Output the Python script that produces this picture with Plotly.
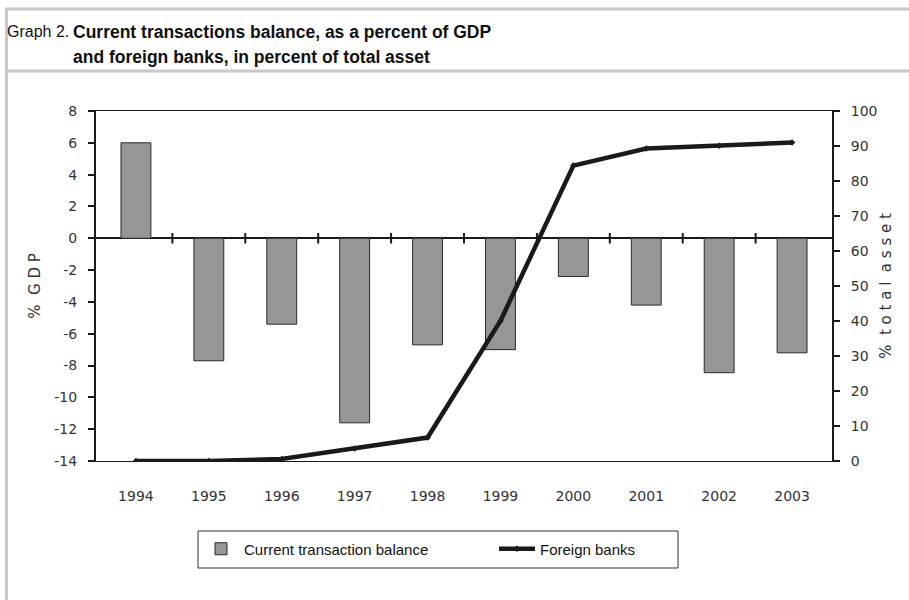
import plotly.graph_objects as go

years = ["1994", "1995", "1996", "1997", "1998", "1999", "2000", "2001", "2002", "2003"]
current_balance = [6.0, -7.7, -5.4, -11.6, -6.7, -7.0, -2.4, -4.2, -8.45, -7.2]
foreign_banks = [0.0, 0.0, 0.6, 3.6, 6.7, 40.0, 84.4, 89.3, 90.1, 91.0]

left_tick_values = [8, 6, 4, 2, 0, -2, -4, -6, -8, -10, -12, -14]
left_tick_labels = ["8", "6", "4", "2", "0", "-2", "-4", "-6", "-8", "-10", "-12", "-14"]
right_tick_values = [0, 10, 20, 30, 40, 50, 60, 70, 80, 90, 100]
right_tick_labels = ["0", "10", "20", "30", "40", "50", "60", "70", "80", "90", "100"]

W, H = 909, 600
L, R, T, B = 96, 909 - 832, 111, 600 - 461
PW, PH = W - L - R, H - T - B

def px_x(px):
    return (px - L) / PW

def px_y(py):
    return (H - B - py) / PH

FONT = "DejaVu Sans"
TITLE_FONT = "Liberation Sans, Arial"

fig = go.Figure()
fig.add_trace(go.Bar(
    x=years, y=current_balance, name="Current transaction balance",
    marker=dict(color="#969696", line=dict(color="#2a2a2a", width=1)),
    width=0.41, yaxis="y", legend="legend",
))
fig.add_trace(go.Scatter(
    x=years, y=foreign_banks, name="Foreign banks", mode="lines+markers",
    line=dict(color="#1a1a1a", width=4.5),
    marker=dict(symbol="diamond", size=5, color="#1a1a1a"),
    yaxis="y2", legend="legend2",
))

shapes = []
# crossing tick marks on the zero line between categories
for i in range(len(years) - 1):
    shapes.append(dict(type="line", xref="x", yref="y", x0=i + 0.5, x1=i + 0.5,
                       y0=-0.33, y1=0.33, line=dict(color="#1a1a1a", width=2)))
# grey frame
frame = "#c8c8c8"
shapes.append(dict(type="line", xref="paper", yref="paper", x0=px_x(6.5), x1=px_x(6.5),
                   y0=px_y(8), y1=px_y(600), line=dict(color=frame, width=3)))
shapes.append(dict(type="line", xref="paper", yref="paper", x0=px_x(5), x1=px_x(909),
                   y0=px_y(9), y1=px_y(9), line=dict(color=frame, width=3)))
shapes.append(dict(type="line", xref="paper", yref="paper", x0=px_x(5), x1=px_x(909),
                   y0=px_y(71), y1=px_y(71), line=dict(color=frame, width=3)))
# legend box
shapes.append(dict(type="rect", xref="paper", yref="paper", x0=px_x(198), x1=px_x(678),
                   y0=px_y(531), y1=px_y(568), line=dict(color="#333333", width=1)))

annotations = [
    dict(text="Graph 2.", xref="paper", yref="paper", x=px_x(5), y=px_y(32),
         xanchor="left", yanchor="middle", showarrow=False,
         font=dict(family=TITLE_FONT, size=16, color="#111111")),
    dict(text="<b>Current transactions balance, as a percent of GDP</b>", xref="paper", yref="paper",
         x=px_x(71), y=px_y(32), xanchor="left", yanchor="middle", showarrow=False,
         font=dict(family=TITLE_FONT, size=17.5, color="#111111")),
    dict(text="<b>and foreign banks, in percent of total asset</b>", xref="paper", yref="paper",
         x=px_x(71), y=px_y(57), xanchor="left", yanchor="middle", showarrow=False,
         font=dict(family=TITLE_FONT, size=17.5, color="#111111")),
]

tickfont = dict(family=FONT, size=14, color="#333333")
legfont = dict(family=TITLE_FONT, size=15, color="#111111")

fig.update_layout(
    width=W, height=H,
    margin=dict(l=L, r=R, t=T, b=B, pad=0),
    paper_bgcolor="white", plot_bgcolor="white",
    showlegend=True,
    legend=dict(orientation="h", x=px_x(198), y=px_y(549), xanchor="left", yanchor="middle",
                borderwidth=0, bgcolor="rgba(0,0,0,0)", font=legfont, itemwidth=36),
    legend2=dict(orientation="h", x=px_x(494), y=px_y(549), xanchor="left", yanchor="middle",
                 borderwidth=0, bgcolor="rgba(0,0,0,0)", font=legfont, itemwidth=36),
    xaxis=dict(type="category", showline=True, linecolor="#1a1a1a", linewidth=1, mirror=True,
               ticks="outside", ticklen=0, tickfont=tickfont, ticklabelstandoff=22,
               showgrid=False, zeroline=False),
    yaxis=dict(range=[-14, 8], tickvals=left_tick_values, ticktext=left_tick_labels,
               showline=True, linecolor="#1a1a1a", linewidth=2,
               ticks="outside", ticklen=6, tickwidth=2, tickcolor="#1a1a1a",
               tickfont=tickfont, ticklabelstandoff=8, showgrid=False,
               zeroline=True, zerolinecolor="#1a1a1a", zerolinewidth=2,
               title=dict(text="%  G D P", font=dict(family=FONT, size=15, color="#333333"), standoff=10)),
    yaxis2=dict(range=[0, 100], tickvals=right_tick_values, ticktext=right_tick_labels,
                overlaying="y", side="right", showline=True,
                linecolor="#1a1a1a", linewidth=2, ticks="outside", ticklen=6, tickwidth=2,
                tickcolor="#1a1a1a", tickfont=tickfont, ticklabelstandoff=8,
                showgrid=False, zeroline=False,
                title=dict(text="%  t o t a l  a s s e t", font=dict(family=FONT, size=15, color="#333333"), standoff=4)),
    yaxis3=dict(range=[-14, 8], tickvals=left_tick_values, overlaying="y", side="left", anchor="x", matches="y",
                ticks="inside", ticklen=5, tickwidth=2, tickcolor="#1a1a1a",
                showticklabels=False, showgrid=False, zeroline=False, showline=False),
    yaxis4=dict(range=[0, 100], tickvals=right_tick_values, overlaying="y", side="right", anchor="x", matches="y2",
                ticks="inside", ticklen=8, tickwidth=2, tickcolor="#1a1a1a",
                showticklabels=False, showgrid=False, zeroline=False, showline=False),
    shapes=shapes,
    annotations=annotations,
    bargap=0.59,
)

fig.write_html("out.html", config={"displayModeBar": False},
               post_script="document.body.style.margin='0px';")
